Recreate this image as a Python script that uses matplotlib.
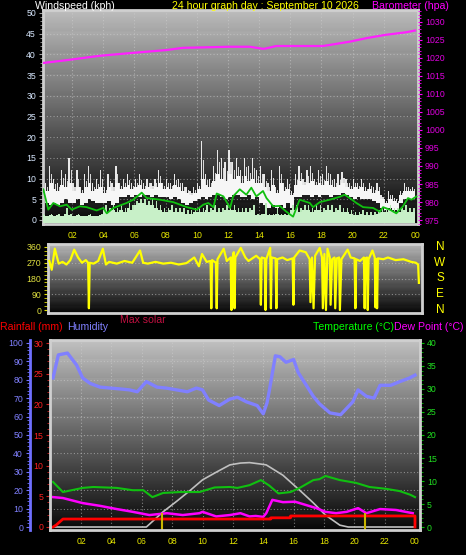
import numpy as np
import matplotlib.pyplot as plt
from matplotlib.ticker import MultipleLocator

plt.rcParams['font.family'] = ['Liberation Sans', 'DejaVu Sans']

# ---------------------------------------------------------------- data
hour_ticks = [2, 4, 6, 8, 10, 12, 14, 16, 18, 20, 22, 24]
hour_labels = ['02', '04', '06', '08', '10', '12', '14', '16', '18', '20', '22', '00']

# wind, 15 minute bins (kph)
wind_bin_hours = np.arange(0.125, 24, 0.25)
gust_high = [11, 9, 13, 10, 9, 12, 11, 15, 9, 12, 8, 11, 13, 9, 10, 12,
             8, 11, 9, 13, 9, 10, 11, 9, 10, 11, 9, 10, 9, 10, 12, 9,
             10, 9, 11, 10, 9, 8, 7, 8, 9, 19, 11, 10, 13, 17, 15, 14,
             17, 14, 15, 12, 15, 13, 15, 12, 13, 11, 9, 12, 8, 13, 9, 10,
             7, 11, 13, 10, 12, 13, 10, 12, 11, 13, 11, 10, 11, 11.5, 10, 9,
             10, 9, 10, 8, 9, 8, 9, 6, 5, 7, 6, 5, 7, 9, 8, 8]
gust_low = [5.5, 4, 3.5, 4, 3.5, 4, 5, 4, 4, 5, 3.5, 4, 5, 4.5, 4, 4,
            4, 4.5, 3.5, 4, 5.5, 5.5, 6, 5.5, 6, 5.5, 6, 6, 5.5, 6, 5.5, 5.5,
            5.5, 5, 5.5, 5, 4, 3.5, 4, 4.5, 5, 5.5, 5, 5.5, 6, 6, 5.5, 5,
            5.5, 6, 6, 5.5, 5.5, 6, 5, 5.5, 4, 3.5, 3, 3.5, 3, 3.5, 3, 4,
            3, 5.5, 5.5, 6, 6, 5.5, 6, 5.5, 6, 6, 5.5, 6, 6, 6.5, 6, 5.5,
            5, 5.5, 5, 5, 5, 4.5, 4, 3, 2.5, 3, 2.5, 2.5, 4, 5, 5, 5]
gust_mid = [8, 7, 9, 7.5, 7, 8.5, 8, 9, 7, 8, 6.5, 8, 9, 7, 7.5, 8,
            6.5, 8, 7, 9, 7.5, 8, 8.5, 7.5, 8, 8.5, 7.5, 8, 7.5, 8, 9, 7.5,
            8, 7.5, 8.5, 8, 7, 6.5, 6, 6.5, 7.5, 10, 8.5, 8, 9.5, 11, 10, 9.5,
            11, 10, 10.5, 9, 10.5, 9.5, 10, 9, 9, 8, 7, 8.5, 6.5, 9, 7, 7.5,
            6, 8.5, 9.5, 8.5, 9, 9.5, 8.5, 9, 8.5, 9.5, 8.5, 8, 8.5, 9, 8, 7.5,
            8, 7.5, 8, 7, 7.5, 6.5, 7, 5, 4, 5, 4.5, 4, 6, 7, 7, 7]
speed_base = [1.2, 1, 1.2, 1, 1.2, 1, 1.5, 1.2, 1, 1.2, 1, 1, 1.2, 1, 1, 1.2,
              2.5, 2, 2.5, 2, 2.5, 2, 3, 2.5, 3.5, 4, 4, 3.5, 3.5, 3, 2.5, 2,
              2, 2.5, 2, 2, 2, 1.5, 1.5, 2, 2, 2, 2.5, 2, 2.5, 2, 2, 2.5,
              2.5, 2.5, 2, 2, 2, 2, 2.5, 1.2, 1.2, 1.5, 1.2, 1.2, 1.5, 1.2, 1.2, 1.2,
              2.5, 2.5, 2, 2.5, 2.5, 2, 2.5, 2.5, 2, 2.5, 2.5, 2, 2.5, 2, 2, 1.5,
              1.2, 1.2, 1.5, 1.2, 1.2, 1.2, 1.5, 2, 2, 2.5, 2, 2, 2, 2.5, 2, 2]
speed_high = [1.5, 1, 1.5, 1, 1.5, 1, 3, 1.5, 1, 1.5, 1, 1, 1.5, 1, 1, 1.5,
              3.5, 3, 3.5, 3, 3.5, 3, 4, 3.5, 4.5, 5, 5, 4.5, 5, 4.5, 3.5, 3,
              3, 3.5, 3, 3, 3, 2.5, 2.5, 3, 3, 3, 3.5, 3, 3.5, 3, 3, 3.5,
              3.5, 3.5, 3, 3, 3, 3, 3.5, 1.5, 1.5, 4, 1.5, 1.5, 3, 1.5, 1.5, 1.5,
              3.5, 3.5, 3, 3.5, 3.5, 3, 3.5, 3.5, 3, 3.5, 3.5, 3, 3.5, 3, 3, 2.5,
              2, 2, 2.5, 2, 2, 2, 2.5, 3, 3, 3.5, 3, 3, 3, 3.5, 3, 3]
avg_hours = [0.16, 0.48, 0.8, 1.23, 1.66, 1.98, 2.51, 2.94, 3.58, 4.0, 4.23, 4.65,
             5.5, 5.93, 6.47, 6.79, 7.65, 8.5, 8.93, 9.36, 10.0, 10.42, 10.74,
             11.07, 11.28, 11.71, 12.14, 12.33, 12.76, 13.18, 13.5, 13.82, 14.25,
             14.47, 14.9, 15.32, 15.75, 16.18, 16.6, 17.25, 17.46, 17.89, 18.53,
             19.17, 19.49, 19.81, 20.24, 20.67, 21.31, 21.74, 21.95, 22.38, 22.8,
             23.23, 23.55, 23.77, 24.09]
avg_speed = [7.4, 2.5, 4.1, 3.3, 3.7, 2.5, 3.3, 3.1, 2.3, 2.9, 1.6, 2.9,
             4.1, 4.9, 6.6, 5.3, 4.9, 4.3, 3.7, 3.1, 2.5, 3.7, 4.1,
             3.1, 6.4, 5.7, 2.9, 5.7, 7.4, 6.1, 7.8, 5.7, 7.0,
             5.3, 3.3, 3.4, 2.0, 0.8, 4.9, 4.1, 3.1, 4.3, 4.9,
             5.6, 6.1, 5.3, 4.1, 3.1, 2.9, 2.0, 3.1, 2.5, 1.6,
             3.3, 5.3, 4.9, 5.7]

# barometer (hPa)
baro_hours = [0.15, 1.7, 3.8, 5.9, 8.1, 9.1, 10.2, 12.1, 13.4, 14.3, 15.1, 18.1,
              19.8, 20.9, 22.1, 23.4, 24.0]
baro_hpa = [1018.6, 1019.4, 1020.6, 1021.4, 1022.2, 1022.8, 1022.9, 1023.1, 1023.1,
            1022.5, 1023.3, 1023.3, 1024.5, 1025.5, 1026.4, 1027.1, 1027.6]

# wind direction (degrees)
dir_hours = [0.15, 0.3, 0.5, 0.75, 1.0, 1.25, 1.5, 1.75, 2.0, 2.25, 2.5, 2.65, 2.7, 2.75,
             3.0, 3.3, 3.6, 3.8, 4.0, 4.5, 5.0, 5.5, 6.0, 6.2, 6.5, 7.0, 7.5, 8.0, 8.5,
             9.0, 9.5, 9.8, 10.0, 10.3, 10.55, 10.6, 10.65, 10.9, 10.95, 11.0, 11.4,
             11.6, 11.85, 11.9, 11.95, 12.05, 12.1, 12.15, 12.5, 12.8, 13.0, 13.5,
             13.75, 13.8, 13.85, 14.05, 14.1, 14.15, 14.4, 14.45, 14.5, 14.75, 14.8,
             14.85, 15.2, 15.5, 15.85, 15.9, 15.95, 16.3, 16.7, 16.95, 17.0, 17.1,
             17.2, 17.3, 17.6, 17.75, 17.8, 17.9, 18.0, 18.1, 18.25, 18.3, 18.4,
             18.55, 18.6, 18.7, 18.85, 18.9, 19.0, 19.4, 19.6, 19.85, 19.9, 19.95,
             20.2, 20.45, 20.5, 20.55, 20.65, 20.7, 20.75, 21.0, 21.15, 21.2, 21.25,
             21.3, 21.35, 21.7, 22.0, 22.5, 23.0, 23.5, 23.8, 23.95, 24.0]
dir_deg = [280, 230, 350, 265, 275, 260, 285, 345, 300, 270, 285, 270, 10, 270,
           265, 280, 350, 260, 275, 265, 280, 270, 340, 270, 265, 275, 265, 270, 260,
           268, 300, 250, 320, 275, 280, 10, 285, 270, 10, 290, 350,
           280, 300, 0, 290, 330, 10, 300, 355, 300, 280, 310,
           290, 30, 300, 295, 0, 290, 355, 10, 300, 295, 10,
           290, 300, 285, 295, 30, 300, 340, 330, 290, 45, 300,
           10, 310, 355, 300, 10, 320, 0, 350, 300, 30, 290,
           300, 10, 295, 300, 0, 290, 345, 300, 295, 10, 290,
           280, 300, 10, 295, 300, 0, 290, 340, 300, 15, 290,
           10, 295, 290, 300, 285, 290, 275, 270, 260, 155]

# humidity (%)
hum_hours = [0.15, 0.5, 1.1, 1.7, 2.1, 2.6, 3.25, 3.9, 4.6, 5.2, 5.7, 6.3, 7.0, 7.6,
             8.3, 9.0, 9.6, 10.0, 10.4, 11.1, 11.8, 12.3, 12.9, 13.6, 14.0, 14.25,
             14.4, 14.8, 15.1, 15.5, 16.0, 16.3, 16.8, 17.3, 17.7, 18.4, 19.1, 19.5,
             19.9, 20.25, 20.8, 21.3, 21.7, 22.4, 23.0, 23.65, 24.0]
hum_pct = [81, 93.5, 94.5, 88, 81, 78, 76, 75.5, 75, 74.5, 73.5, 79, 76, 75.5,
           74.5, 73.5, 75.5, 74.5, 69, 66, 69.5, 70.5, 68, 66, 61.5, 67.5,
           74, 93, 92.5, 89.5, 91, 84, 77.5, 71, 67, 62, 61, 64.5,
           68, 74.5, 71, 70, 77, 77, 79, 81, 82.5]

# temperature / dew point (C)
temp_hours = [0.15, 0.8, 2.1, 2.8, 4.35, 5.4, 6.1, 6.7, 7.4, 8.5, 9.8, 10.8, 11.8,
              12.3, 13.1, 13.85, 14.4, 15.0, 15.8, 16.4, 17.3, 17.7, 18.1, 19.05,
              20.1, 21.0, 22.1, 23.0, 23.7, 24.0]
temp_c = [9.8, 7.6, 8.5, 8.7, 8.5, 8.0, 8.0, 6.5, 7.4, 7.6, 7.6, 8.6, 8.7,
          8.5, 9.1, 10.2, 9.0, 7.3, 7.6, 8.5, 10.2, 10.4, 11.1, 10.2,
          9.6, 8.7, 8.3, 7.8, 7.0, 6.5]
dew_hours = [0.15, 0.8, 2.1, 3.25, 4.35, 5.4, 6.5, 7.65, 8.7, 9.8, 10.0, 10.9, 11.8,
             12.5, 13.1, 13.5, 14.0, 14.2, 14.6, 15.3, 16.1, 16.8, 17.5, 18.1, 18.8,
             19.5, 20.25, 20.8, 21.7, 22.75, 23.85]
dew_c = [6.5, 6.3, 5.2, 4.6, 3.9, 3.3, 2.6, 3.0, 2.6, 3.0, 3.3, 2.3, 2.6,
         3.0, 2.3, 2.4, 2.2, 3.0, 5.9, 5.4, 5.5, 4.8, 4.1, 3.3, 3.0,
         3.3, 4.1, 3.0, 3.9, 3.7, 3.0]

# max solar (W/m2)
solar_hours = [0, 6.3, 7.4, 8.3, 9.2, 10.0, 10.95, 11.8, 12.5, 13.1, 13.8, 14.2,
               15.3, 16.4, 17.3, 18.1, 19.05, 19.6, 24.0]
solar_wm2 = [0, 0, 132, 224, 320, 410, 480, 540, 556, 560, 548, 540,
             450, 320, 210, 104, 16, 0, 0]

# rainfall (mm)
rain_hours = [0.15, 0.35, 0.8, 14.5, 14.5, 15.8, 15.8, 24.0, 24.0]
rain_mm = [0, 0.3, 1.3, 1.3, 1.5, 1.5, 1.8, 1.8, 0]

# sunrise / sunset markers
sun_hours = [7.35, 20.7]

# ---------------------------------------------------------------- layout
W, H = 466, 555
fig = plt.figure(figsize=(W / 100, H / 100), dpi=100, facecolor='black')


def rect(l, t, r, b):
    return [l / W, 1 - b / H, (r - l) / W, (b - t) / H]


def fxy(x, y):
    return x / W, 1 - y / H


def shade(ax, top=0.74, bottom=0.05):
    g = np.linspace(top, bottom, 200)
    band = (np.arange(200) % 20) / 20.0
    g = g - 0.025 * band
    ax.imshow(g[:, None], extent=(0, 1, 0, 1), transform=ax.transAxes,
              cmap='gray', vmin=0, vmax=1, aspect='auto', zorder=0,
              interpolation='bilinear')


def frame(ax, color='#d0d0d0'):
    for s in ax.spines.values():
        s.set_color(color)
        s.set_linewidth(2)


grid_kw = dict(color='#d0d0d0', linestyle=(0, (1, 2)), linewidth=0.8, alpha=0.55)
tick_fs = 6.3

# ---------------------------------------------------------------- top panel
ax1 = fig.add_axes(rect(43, 10, 418, 224))
shade(ax1)
ax1.set_xlim(0.14, 24.19)
ax1.set_ylim(-0.97, 50.7)
frame(ax1)
gh = np.array(gust_high)
gl = np.array(gust_low)
gm = np.array(gust_mid)
# thin spikes up to the gust peak, solid band for the bulk of the gusts
ax1.bar(wind_bin_hours - 0.06, gh - gl, bottom=gl, width=0.08,
        color='#e8e8e8', linewidth=0, zorder=2)
ax1.bar(wind_bin_hours + 0.07, (gh + gm) / 2 - gl, bottom=gl, width=0.07,
        color='#d8d8d8', linewidth=0, zorder=2)
ax1.bar(wind_bin_hours, gm - gl, bottom=gl, width=0.25,
        color='#f6f6f6', linewidth=0, zorder=2)
sb = np.array(speed_base)
ax1.bar(wind_bin_hours, sb + 0.8, bottom=-0.8,
        width=0.25, color='#c8f0c8', linewidth=0, zorder=3)
ax1.bar(wind_bin_hours + 0.05, np.array(speed_high) - sb, bottom=sb,
        width=0.1, color='#b8e8b8', linewidth=0, zorder=3)
ax1.plot(avg_hours, avg_speed, color='#10c010', lw=1.3, zorder=4)
ax1.yaxis.set_major_locator(MultipleLocator(5))
ax1.yaxis.set_minor_locator(MultipleLocator(1))
ax1.tick_params(axis='y', which='both', colors='#a0a0a0', labelcolor='#d8e8ff',
                labelsize=tick_fs, length=3, pad=2)
ax1.tick_params(axis='y', which='minor', length=2)
ax1.set_xticks(hour_ticks)
ax1.set_xticklabels(hour_labels)
ax1.tick_params(axis='x', length=0, labelcolor='#e8e800', labelsize=tick_fs, pad=5)
for v in range(5, 50, 5):
    ax1.axhline(v, zorder=1, **grid_kw)
for h in hour_ticks[:-1]:
    ax1.axvline(h, zorder=1, **grid_kw)

ax1b = ax1.twinx()
ax1b.set_ylim(973.9, 1033.3)
ax1b.plot(baro_hours, baro_hpa, color='#ff20ff', lw=1.6, zorder=5)
for s in ax1b.spines.values():
    s.set_visible(False)
ax1b.yaxis.set_major_locator(MultipleLocator(5))
ax1b.yaxis.set_minor_locator(MultipleLocator(1))
ax1b.tick_params(axis='y', which='both', colors='#ff00ff', labelcolor='#e000e0',
                 labelsize=tick_fs, length=3, pad=2)
ax1b.tick_params(axis='y', which='minor', length=2)

# ---------------------------------------------------------------- middle panel
ax2 = fig.add_axes(rect(48, 244, 422, 313))
shade(ax2, 0.72, 0.04)
ax2.set_xlim(0.06, 24.2)
ax2.set_ylim(-17, 377)
frame(ax2)
ax2.plot(dir_hours, dir_deg, color='#ffff00', lw=1.6, zorder=3)
ax2.set_yticks([0, 90, 180, 270, 360])
ax2.yaxis.set_minor_locator(MultipleLocator(22.5))
ax2.tick_params(axis='y', which='both', colors='#e0e000', labelcolor='#e0e040',
                labelsize=tick_fs, length=3, pad=2)
ax2.set_xticks([])
for v in [90, 180, 270]:
    ax2.axhline(v, zorder=1, **grid_kw)
for lab, deg in zip(['N', 'W', 'S', 'E', 'N'], [360, 270, 180, 90, 0]):
    y = 310 - deg / 5.71
    fig.text(*fxy(440, y), lab, color='#ffff00', fontsize=8.5, ha='center', va='center')

# ---------------------------------------------------------------- bottom panel
ax3 = fig.add_axes(rect(50, 340, 420, 530))
shade(ax3, 0.76, 0.05)
ax3.set_xlim(-0.05, 24.33)
ax3.set_ylim(-1.6, 101.6)
for s in ['top', 'right', 'bottom']:
    ax3.spines[s].set_visible(False)
ax3.spines['left'].set_position(('outward', 14.4))
ax3.spines['left'].set_color('#7070ff')
ax3.spines['left'].set_linewidth(2)
ax3.yaxis.set_major_locator(MultipleLocator(10))
ax3.yaxis.set_minor_locator(MultipleLocator(2))
ax3.tick_params(axis='y', which='both', colors='#7070ff', labelcolor='#8080ff',
                labelsize=tick_fs, length=3, pad=2)
ax3.tick_params(axis='y', which='minor', length=2)
ax3.set_xticks(hour_ticks)
ax3.set_xticklabels(hour_labels)
ax3.tick_params(axis='x', length=0, labelcolor='#e8e800', labelsize=tick_fs, pad=5)
for v in range(10, 100, 10):
    ax3.axhline(v, zorder=1, **grid_kw)
for h in hour_ticks[:-1]:
    ax3.axvline(h, zorder=1, **grid_kw)
ax3.plot(hum_hours, hum_pct, color='#8080ff', lw=2.4, zorder=3)

ax_s = ax3.twinx()
ax_s.set_ylim(-26, 1626)
ax_s.plot(solar_hours, solar_wm2, color='#c0c0c0', lw=1.2)
ax_s.axis('off')

ax_t = ax3.twinx()
ax_t.set_ylim(-0.65, 40.65)
for s in ax_t.spines.values():
    s.set_visible(False)
ax_t.plot(temp_hours, temp_c, color='#10c010', lw=1.5)
ax_t.plot(dew_hours, dew_c, color='#ff00ff', lw=1.8)
ax_t.yaxis.set_major_locator(MultipleLocator(5))
ax_t.yaxis.set_minor_locator(MultipleLocator(1))
ax_t.tick_params(axis='y', which='both', colors='#00c000', labelcolor='#20e020',
                 labelsize=tick_fs, length=3, pad=2)
ax_t.tick_params(axis='y', which='minor', length=2)

ax_r = ax3.twinx()
ax_r.set_ylim(-0.49, 30.5)
frame(ax_r)
ax_r.yaxis.tick_left()
ax_r.plot(rain_hours, rain_mm, color='#ff0000', lw=2)
ax_r.vlines(sun_hours, -0.49, 2.3, color='#c8b400', lw=1.5)
ax_r.yaxis.set_major_locator(MultipleLocator(5))
ax_r.yaxis.set_minor_locator(MultipleLocator(1))
ax_r.tick_params(axis='y', which='both', colors='#d02020', labelcolor='#ff2020',
                 labelsize=tick_fs, length=3, pad=2)
ax_r.tick_params(axis='y', which='minor', length=2)

# ---------------------------------------------------------------- titles
fs = 7.6
fig.text(*fxy(35, 6), 'Windspeed (kph)', color='white', fontsize=fs, va='center')
fig.text(*fxy(172, 6), '24 hour graph day : September 10 2026', color='#ffff00',
         fontsize=fs, va='center')
fig.text(*fxy(372, 6), 'Barometer (hpa)', color='#ff00ff', fontsize=fs, va='center')
fig.text(*fxy(0, 327), 'Rainfall (mm)', color='#ff0000', fontsize=fs, va='center')
fig.text(*fxy(67, 327), 'Humidity', color='#8080ff', fontsize=fs, va='center')
fig.text(*fxy(120, 320), 'Max solar', color='#c01040', fontsize=fs, va='center')
fig.text(*fxy(313, 327), 'Temperature (\u00b0C)', color='#00ff00', fontsize=fs, va='center')
fig.text(*fxy(394, 327), 'Dew Point (\u00b0C)', color='#ff00ff', fontsize=fs, va='center')

fig.savefig('out.png', dpi=100, facecolor='black')
